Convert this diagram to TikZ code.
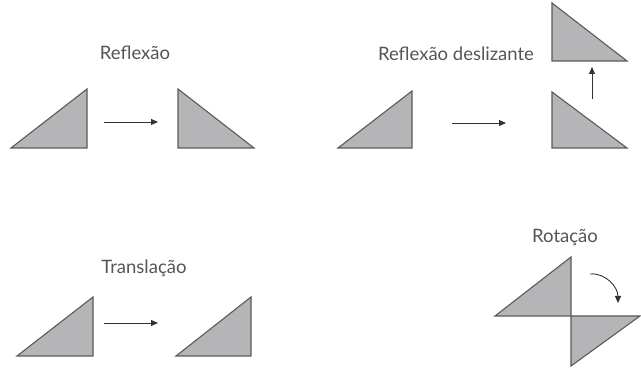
\documentclass[tikz,border=0pt]{standalone}
\usepackage{fontspec}
\setmainfont{Lato}
\usetikzlibrary{arrows.meta}
\definecolor{trifill}{HTML}{B5B5B7}
\definecolor{triline}{HTML}{5A5A5C}
\definecolor{txt}{HTML}{555555}
\begin{document}
\begin{tikzpicture}[x=1pt,y=-1pt,
  tri/.style={fill=trifill,draw=triline,line width=1.1pt,line join=miter},
  arr/.style={draw=black!80,line width=0.9pt,-{Triangle[length=7pt,width=6pt]}},
  lbl/.style={text=txt,font=\fontsize{18.5}{20}\selectfont,inner sep=0pt}]
\useasboundingbox (0,0) rectangle (641,379);
% Reflexao
\node[lbl] (l1) at (135,53) {Reflexão};
\draw[tri] (11,148) -- (87,89) -- (87,148) -- cycle;
\draw[tri] (178,89) -- (178,148) -- (254,148) -- cycle;
\coordinate (a1s) at (104,122); \coordinate (a1e) at (158,122);
\draw[arr] (a1s) -- (a1e);
% Reflexao deslizante
\node[lbl] (l2) at (456,54) {Reflexão deslizante};
\draw[tri] (338,148) -- (412,91) -- (412,148) -- cycle;
\draw[tri] (552,92) -- (552,148) -- (627,148) -- cycle;
\draw[tri] (552,3) -- (552,61) -- (627,61) -- cycle;
\coordinate (a2s) at (452,123); \coordinate (a2e) at (506,123);
\draw[arr] (a2s) -- (a2e);
\coordinate (a3s) at (592,99); \coordinate (a3e) at (592,67);
\draw[arr] (a3s) -- (a3e);
% Translacao
\node[lbl] (l3) at (144,268) {Translação};
\draw[tri] (17,356) -- (93,297) -- (93,356) -- cycle;
\draw[tri] (176,356) -- (251,297) -- (251,356) -- cycle;
\coordinate (a4s) at (104,323); \coordinate (a4e) at (158,323);
\draw[arr] (a4s) -- (a4e);
% Rotacao
\node[lbl] (l4) at (565,238) {Rotação};
\draw[tri] (495,316) -- (571,257) -- (571,316) -- cycle;
\draw[tri] (571,316) -- (640,316) -- (571,366) -- cycle;
\coordinate (a5s) at (590,274); \coordinate (a5e) at (618,303);
\draw[arr] (a5s) to[out=5,in=90] (a5e);
\end{tikzpicture}
\end{document}
